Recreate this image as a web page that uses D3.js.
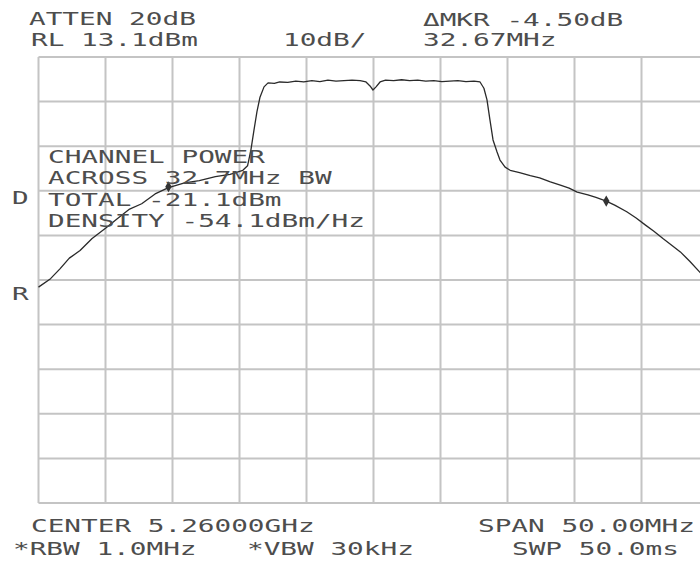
<!DOCTYPE html>
<html>
<head>
<meta charset="utf-8">
<script src="https://cdn.jsdelivr.net/npm/d3@7"></script>
<style>
  body { margin: 0; background: #fff; }
  svg { display: block; }
  .lbl { font-family: "DejaVu Sans Mono", monospace; font-size: 18px; fill: #4d4d4d; }
</style>
</head>
<body>
<script>
// frequency offset from center (MHz) and trace level (dBm)
var freqMHz = [-25, -24.1, -23.4, -22.7, -21.9, -21.0, -20.0, -19.1, -18.2, -17.3, -16.3, -15.3, -14.1,
  -13.0, -11.8, -10.7, -9.75, -9.4, -9.15, -8.92, -8.7, -8.47, -8.17, -7.87, -7.4, -7.0, -6.4, -5.8,
  -5.2, -4.6, -4.0, -3.4, -2.8, -2.2, -1.6, -1.0, -0.56, -0.26, -0.04, 0.19, 0.49, 0.9, 1.5, 2.1, 2.7,
  3.3, 3.9, 4.5, 5.1, 5.7, 6.3, 6.9, 7.5, 7.95, 8.24, 8.47, 8.69, 8.92, 9.22, 9.44, 9.82, 10.2, 10.9,
  11.7, 12.4, 13.2, 14.0, 14.6, 15.2, 16.0, 16.6, 17.37, 18.0, 18.9, 19.6, 20.3, 20.9, 21.6, 22.3,
  22.9, 23.6, 24.4, 25];
var levelDbm = [-38.5, -36.6, -34.4, -32.0, -30.3, -27.6, -25.3, -23.1, -21.0, -19.8, -17.6, -16.2, -15.1,
  -14.6, -13.7, -13.2, -12.3, -11.3, -7.8, -3.3, 0.8, 4.1, 6.4, 7.3, 7.2, 7.5, 7.4, 7.7,
  7.5, 7.8, 7.6, 7.9, 7.7, 7.8, 7.9, 7.8, 7.5, 6.6, 5.7, 6.4, 7.5, 7.9, 7.8, 8.0, 7.8,
  7.9, 7.7, 7.8, 7.6, 7.7, 7.8, 7.6, 7.7, 7.5, 6.1, 3.5, -1.0, -5.5, -8.2, -10.0, -11.6, -12.3, -12.8,
  -13.5, -14.0, -14.9, -15.7, -16.3, -17.2, -17.8, -18.4, -19.2, -20.1, -21.6, -23.0, -24.6, -25.9, -27.6, -29.2,
  -30.6, -32.7, -35.3, -36.9];

var markerFreq = [-15.3, 17.37];
var markerLevel = [-16.0, -19.2];

var xDivs = [-25, -20, -15, -10, -5, 0, 5, 10, 15, 20, 25];
var yDivs = [13.1, 3.1, -6.9, -16.9, -26.9, -36.9, -46.9, -56.9, -66.9, -76.9, -86.9];

var topLeft = ["ATTEN 20dB", "RL 13.1dBm"];
var topMid = ["10dB/"];
var topRight = ["\u0394MKR -4.50dB", "32.67MHz"];
var chanPower = ["CHANNEL POWER", "ACROSS 32.7MHz BW", "TOTAL -21.1dBm", "DENSITY -54.1dBm/Hz"];
var bottomLeft = ["CENTER 5.26000GHz", "*RBW 1.0MHz"];
var bottomMid = ["*VBW 30kHz"];
var bottomRight = ["SPAN 50.00MHz", "SWP 50.0ms"];

var W = 700, H = 561;
var svg = d3.select("body").append("svg").attr("width", W).attr("height", H);

var x = d3.scaleLinear().domain([-25, 25]).range([38.5, 708.5]);
var y = d3.scaleLinear().domain([-86.9, 13.1]).range([503, 57]);

// graticule
svg.append("g").selectAll("line.v").data(xDivs).enter().append("line")
  .attr("x1", function(d) { return x(d); }).attr("x2", function(d) { return x(d); })
  .attr("y1", y(13.1)).attr("y2", y(-86.9))
  .attr("stroke", "#c4c4c4").attr("stroke-width", 2);
svg.append("g").selectAll("line.h").data(yDivs).enter().append("line")
  .attr("x1", x(-25)).attr("x2", x(25))
  .attr("y1", function(d) { return y(d); }).attr("y2", function(d) { return y(d); })
  .attr("stroke", "#c4c4c4").attr("stroke-width", 2);

// trace
var trace = freqMHz.map(function(f, i) { return [f, levelDbm[i]]; });
var line = d3.line()
  .x(function(d) { return x(d[0]); })
  .y(function(d) { return y(d[1]); });
svg.append("path").datum(trace)
  .attr("d", line)
  .attr("fill", "none")
  .attr("stroke", "#2a2a2a")
  .attr("stroke-width", 1.3)
  .attr("stroke-linejoin", "round");

// markers
svg.selectAll("path.mk").data(markerFreq).enter().append("path")
  .attr("d", d3.symbol().type(d3.symbolDiamond).size(36))
  .attr("transform", function(d, i) { return "translate(" + x(d) + "," + y(markerLevel[i]) + ")"; })
  .attr("fill", "#333");

// text
function label(txt, px, py) {
  svg.append("text").attr("class", "lbl")
    .attr("transform", "translate(" + px + "," + py + ") scale(1.54,1)")
    .text(txt);
}
label(topLeft[0], 29, 25);
label(topLeft[1], 31, 46);
label(topMid[0], 283, 46);
label(topRight[0], 423, 26);
label(topRight[1], 423, 46);
label(chanPower[0], 48, 163);
label(chanPower[1], 48, 184);
label(chanPower[2], 48, 206);
label(chanPower[3], 48, 227);
label("D", 12, 204);
label("R", 12, 300);
label(bottomLeft[0], 31, 532);
label(bottomLeft[1], 13, 555);
label(bottomMid[0], 247, 555);
label(bottomRight[0], 478, 532);
label(bottomRight[1], 512, 555);
</script>
</body>
</html>
